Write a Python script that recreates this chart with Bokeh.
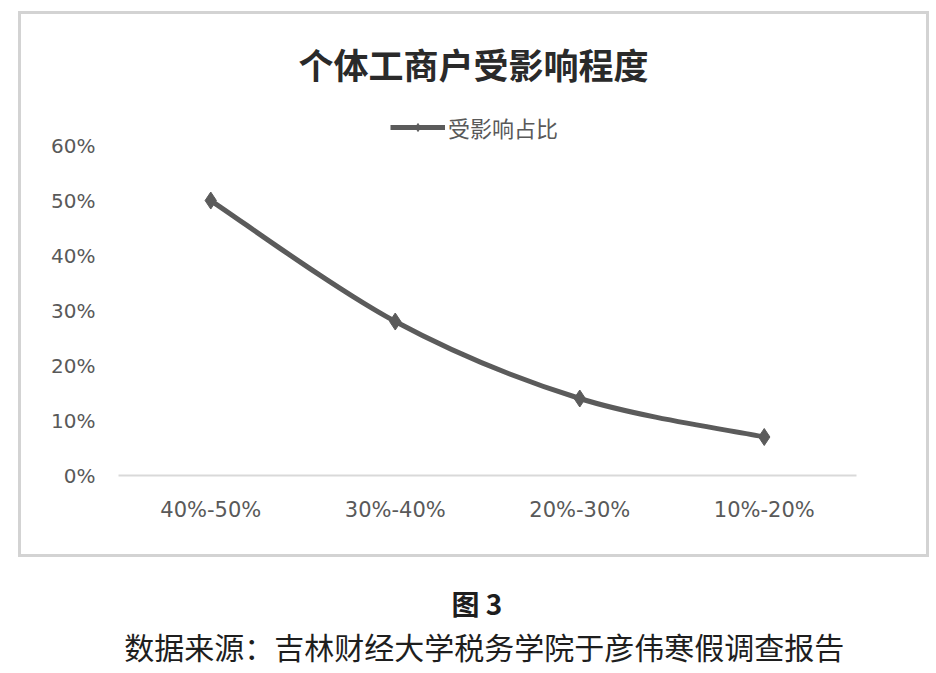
from bokeh.plotting import figure
from bokeh.models import (FactorRange, Range1d, Legend, LegendItem, Label,
                          FixedTicker)
from bokeh.layouts import column
from bokeh.embed import file_html
from bokeh.resources import INLINE

# ---------------- data ----------------
categories = ["40%-50%", "30%-40%", "20%-30%", "10%-20%"]
shares = [50, 28, 14, 7]          # percent
y_ticks = [0, 10, 20, 30, 40, 50, 60]
y_tick_labels = ["0%", "10%", "20%", "30%", "40%", "50%", "60%"]
title_text = "个体工商户受影响程度"
series_name = "受影响占比"
fig_label = "图 3"
source_text = "数据来源：吉林财经大学税务学院于彦伟寒假调查报告"

LINE_COLOR = "#5b5b5b"
TEXT_GRAY = "#595959"
CJK = "Noto Sans CJK SC"
NUM = "DejaVu Sans"

# ---------------- chart ----------------
p = figure(width=911, height=546,
           x_range=FactorRange(factors=categories),
           y_range=Range1d(0, 69.1),
           output_backend="svg", toolbar_location=None,
           min_border_left=97, min_border_right=76,
           min_border_top=81, min_border_bottom=85)
p.margin = (11, 0, 0, 18)
p.styles = {"border": "3px solid #d3d3d3"}
p.outline_line_color = None
p.background_fill_color = "white"
p.border_fill_color = "white"
p.xgrid.grid_line_color = None
p.ygrid.grid_line_color = None

p.title.text = title_text
p.title.align = "left"
p.title.offset = 180
p.title.standoff = 13
p.title.text_font = CJK
p.title.text_font_size = "35px"
p.title.text_font_style = "bold"
p.title.text_color = "#2a2a2a"

# smoothed line (Catmull-Rom -> cubic Bezier) from the data points
xs = [i + 0.5 for i in range(len(categories))]
ys = list(shares)
n = len(xs)
x0, y0, x1, y1, cx0, cy0, cx1, cy1 = [], [], [], [], [], [], [], []
for i in range(n - 1):
    pxm, pym = (xs[i - 1], ys[i - 1]) if i > 0 else (xs[i], ys[i])
    pxp, pyp = (xs[i + 2], ys[i + 2]) if i + 2 < n else (xs[i + 1], ys[i + 1])
    x0.append(xs[i]); y0.append(ys[i])
    x1.append(xs[i + 1]); y1.append(ys[i + 1])
    cx0.append(xs[i] + (xs[i + 1] - pxm) / 6.0)
    cy0.append(ys[i] + (ys[i + 1] - pym) / 6.0)
    cx1.append(xs[i + 1] - (pxp - xs[i]) / 6.0)
    cy1.append(ys[i + 1] - (pyp - ys[i]) / 6.0)

p.bezier(x0=x0, y0=y0, x1=x1, y1=y1, cx0=cx0, cy0=cy0, cx1=cx1, cy1=cy1,
         line_color=LINE_COLOR, line_width=5)
pts = p.scatter(x=categories, y=shares, marker="diamond", size=17,
                fill_color=LINE_COLOR, line_color=LINE_COLOR)
# one-point line: draws nothing on the plot, gives the legend its line glyph
leg_line = p.line(x=categories[:1], y=shares[:1], line_color=LINE_COLOR, line_width=5)

legend = Legend(items=[LegendItem(label=series_name, renderers=[leg_line, pts])],
                location=(272, 332), orientation="horizontal",
                border_line_color=None, background_fill_alpha=0,
                padding=0, margin=0, spacing=0,
                glyph_width=55, glyph_height=20, label_standoff=3,
                label_text_font=CJK, label_text_font_size="22px",
                label_text_color=TEXT_GRAY)
p.add_layout(legend)

p.yaxis.ticker = FixedTicker(ticks=y_ticks)
p.yaxis.major_label_overrides = dict(zip(y_ticks, y_tick_labels))
p.yaxis.axis_line_color = None
p.yaxis.major_tick_line_color = None
p.yaxis.minor_tick_line_color = None
p.yaxis.major_tick_in = 0
p.yaxis.major_tick_out = 0
p.yaxis.major_label_standoff = 23
p.yaxis.major_label_text_font = NUM
p.yaxis.major_label_text_font_size = "20px"
p.yaxis.major_label_text_color = TEXT_GRAY

p.xaxis.axis_line_color = "#d9d9d9"
p.xaxis.axis_line_width = 2
p.xaxis.major_tick_line_color = None
p.xaxis.minor_tick_line_color = None
p.xaxis.major_tick_in = 0
p.xaxis.major_tick_out = 0
p.xaxis.major_label_standoff = 22
p.xaxis.major_label_text_font = NUM
p.xaxis.major_label_text_font_size = "21px"
p.xaxis.major_label_text_color = TEXT_GRAY

# ---------------- caption ----------------
CH = 114
c = figure(width=930, height=CH, x_range=Range1d(0, 930), y_range=Range1d(0, CH),
           output_backend="svg", toolbar_location=None,
           min_border=0, min_border_left=0, min_border_right=0,
           min_border_top=0, min_border_bottom=0)
c.axis.visible = False
c.grid.visible = False
c.outline_line_color = None
c.background_fill_color = "white"
c.border_fill_color = "white"
c.add_layout(Label(x=466, y=CH - 45, text=fig_label, text_align="center",
                   text_baseline="middle", text_font=CJK, text_font_size="28px",
                   text_font_style="bold", text_color="#1e1e1e"))
c.add_layout(Label(x=475, y=CH - 88, text=source_text, text_align="center",
                   text_baseline="middle", text_font=CJK, text_font_size="30px",
                   text_color="#1e1e1e"))

layout = column(p, c, spacing=0)
open("out.html", "w").write(file_html(layout, INLINE))
